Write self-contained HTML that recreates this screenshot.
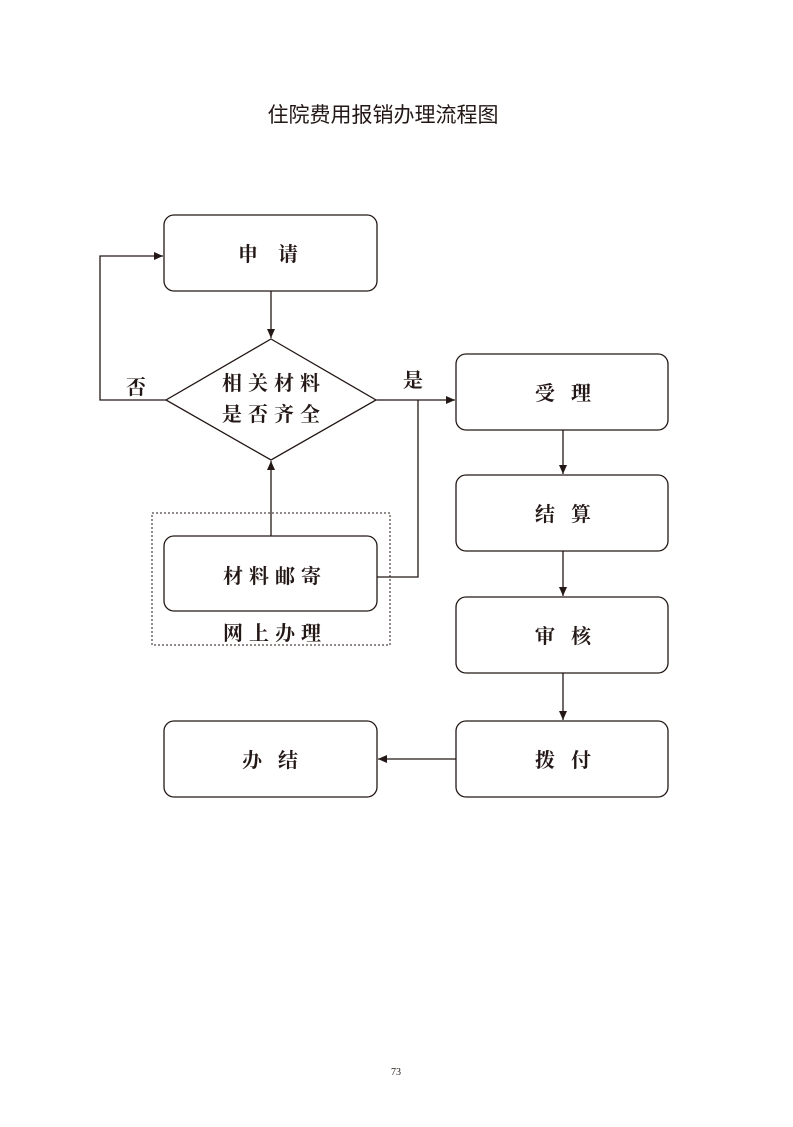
<!DOCTYPE html>
<html><head><meta charset="utf-8"><style>
body{margin:0;background:#fff;}
svg text{font-family:"Liberation Serif","Noto Serif CJK SC",serif;fill:#231815;}
</style></head><body>
<svg width="793" height="1122" viewBox="0 0 793 1122" xmlns="http://www.w3.org/2000/svg">
<defs><marker id="a" markerWidth="10" markerHeight="10" refX="9" refY="5" orient="auto" markerUnits="userSpaceOnUse"><path d="M0,1 L9,5 L0,9 z" fill="#231815"/></marker></defs>
<text x="383" y="122" text-anchor="middle" font-size="21" style="font-family:'Liberation Sans','Noto Sans CJK SC',sans-serif">住院费用报销办理流程图</text>
<g fill="none" stroke="#231815" stroke-width="1.3">
<rect x="164" y="215" width="213" height="76" rx="10"/>
<polygon points="271,339 376,400 271,460 166,400"/>
<rect x="152" y="513" width="238" height="132" stroke-dasharray="2,2" stroke-width="1"/>
<rect x="164" y="536" width="213" height="75" rx="10"/>
<rect x="456" y="354" width="212" height="76" rx="10"/>
<rect x="456" y="475" width="212" height="76" rx="10"/>
<rect x="456" y="597" width="212" height="76" rx="10"/>
<rect x="456" y="721" width="212" height="76" rx="10"/>
<rect x="164" y="721" width="213" height="76" rx="10"/>
<line x1="271" y1="291" x2="271" y2="338" marker-end="url(#a)"/>
<polyline points="166,400 100,400 100,256 163,256" marker-end="url(#a)"/>
<line x1="376" y1="400" x2="455" y2="400" marker-end="url(#a)"/>
<polyline points="377,577 418,577 418,400"/>
<line x1="271" y1="536" x2="271" y2="461" marker-end="url(#a)"/>
<line x1="563" y1="430" x2="563" y2="474" marker-end="url(#a)"/>
<line x1="563" y1="551" x2="563" y2="596" marker-end="url(#a)"/>
<line x1="563" y1="673" x2="563" y2="720" marker-end="url(#a)"/>
<line x1="456" y1="759" x2="378" y2="759" marker-end="url(#a)"/>
</g>
<g font-size="20" font-weight="bold" text-anchor="middle">
<text x="278" y="261" letter-spacing="20">申请</text>
<text x="274" y="390" letter-spacing="6">相关材料</text>
<text x="274" y="421" letter-spacing="6">是否齐全</text>
<text x="136" y="394">否</text>
<text x="413" y="387">是</text>
<text x="275" y="583" letter-spacing="6">材料邮寄</text>
<text x="275" y="640" letter-spacing="6">网上办理</text>
<text x="571" y="400" letter-spacing="16">受理</text>
<text x="571" y="521" letter-spacing="16">结算</text>
<text x="571" y="643" letter-spacing="16">审核</text>
<text x="571" y="767" letter-spacing="16">拨付</text>
<text x="278" y="767" letter-spacing="16">办结</text>
</g>
<text x="396" y="1075" font-size="10" text-anchor="middle">73</text>
</svg>
</body></html>
